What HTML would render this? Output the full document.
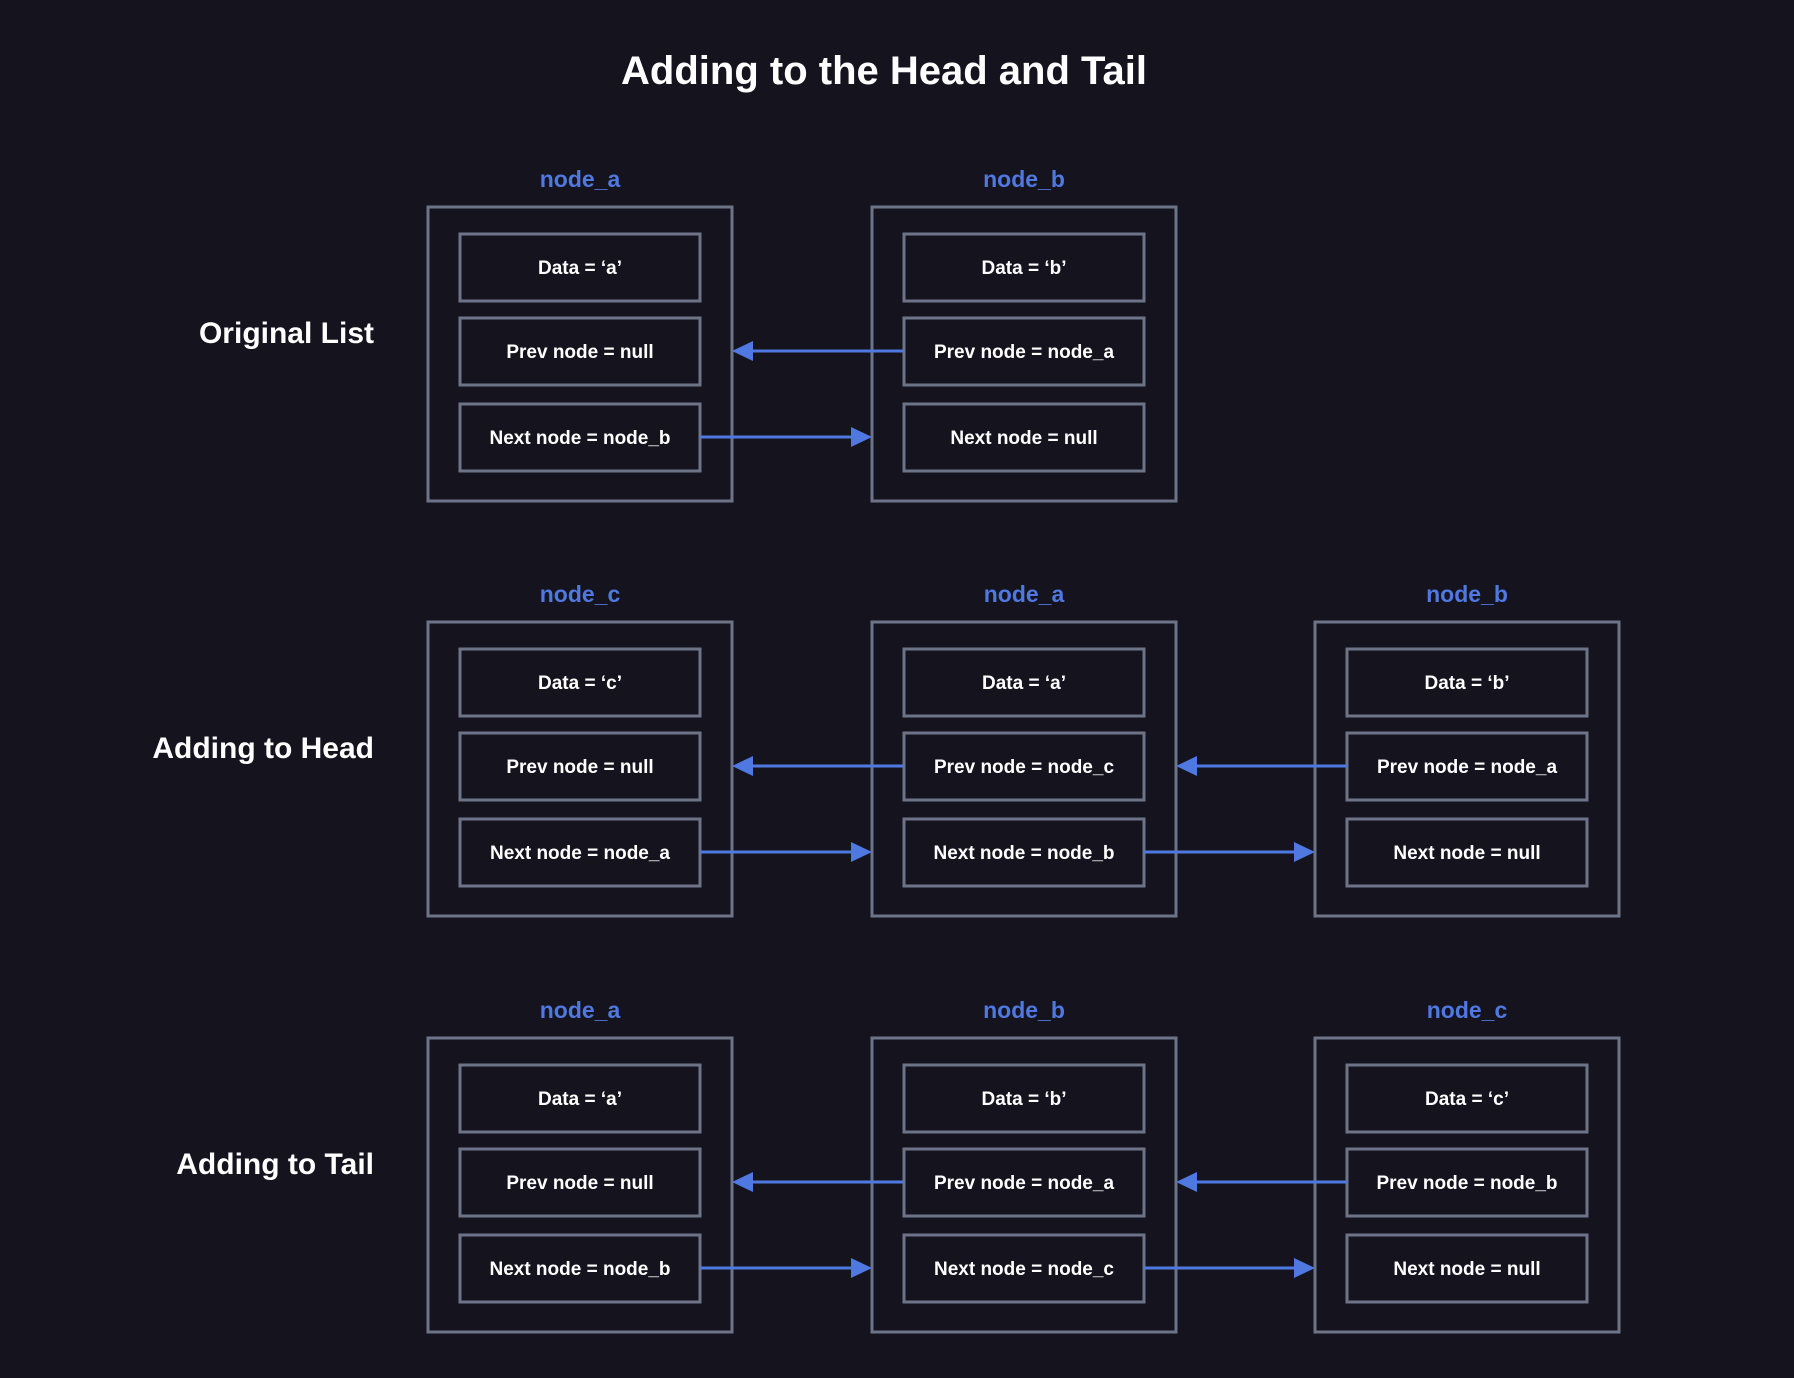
<!DOCTYPE html>
<html><head><meta charset="utf-8"><style>
html,body{margin:0;padding:0;background:#14131e;}
svg{display:block}
text{font-family:"Liberation Sans",sans-serif;font-weight:bold;}
.o{fill:none;stroke:#6e7488;stroke-width:3}
.t{fill:#fff;font-size:19px;text-anchor:middle}
.n{fill:#4f78e0;font-size:23px;text-anchor:middle}
.r{fill:#fff;font-size:30px;text-anchor:end}
.l{stroke:#4f78e0;stroke-width:3}
.a{fill:#4f78e0}
</style></head><body>
<svg width="1794" height="1378" viewBox="0 0 1794 1378" xmlns="http://www.w3.org/2000/svg">
<rect width="1794" height="1378" fill="#14131e"/>
<text x="884" y="84" text-anchor="middle" fill="#fff" font-size="40">Adding to the Head and Tail</text>

<!-- Row 1 -->
<text class="r" x="374" y="343">Original List</text>
<text class="n" x="580" y="187">node_a</text>
<rect class="o" x="428" y="207" width="304" height="294"/>
<rect class="o" x="460" y="234" width="240" height="67"/><text class="t" x="580" y="274">Data = ‘a’</text>
<rect class="o" x="460" y="318" width="240" height="67"/><text class="t" x="580" y="358">Prev node = null</text>
<rect class="o" x="460" y="404" width="240" height="67"/><text class="t" x="580" y="444">Next node = node_b</text>
<text class="n" x="1024" y="187">node_b</text>
<rect class="o" x="872" y="207" width="304" height="294"/>
<rect class="o" x="904" y="234" width="240" height="67"/><text class="t" x="1024" y="274">Data = ‘b’</text>
<rect class="o" x="904" y="318" width="240" height="67"/><text class="t" x="1024" y="358">Prev node = node_a</text>
<rect class="o" x="904" y="404" width="240" height="67"/><text class="t" x="1024" y="444">Next node = null</text>
<line class="l" x1="904" y1="351" x2="752" y2="351"/><polygon class="a" points="732,351 753,341 753,361"/>
<line class="l" x1="700" y1="437" x2="852" y2="437"/><polygon class="a" points="872,437 851,427 851,447"/>

<!-- Row 2 -->
<text class="r" x="374" y="758">Adding to Head</text>
<text class="n" x="580" y="602">node_c</text>
<rect class="o" x="428" y="622" width="304" height="294"/>
<rect class="o" x="460" y="649" width="240" height="67"/><text class="t" x="580" y="689">Data = ‘c’</text>
<rect class="o" x="460" y="733" width="240" height="67"/><text class="t" x="580" y="773">Prev node = null</text>
<rect class="o" x="460" y="819" width="240" height="67"/><text class="t" x="580" y="859">Next node = node_a</text>
<text class="n" x="1024" y="602">node_a</text>
<rect class="o" x="872" y="622" width="304" height="294"/>
<rect class="o" x="904" y="649" width="240" height="67"/><text class="t" x="1024" y="689">Data = ‘a’</text>
<rect class="o" x="904" y="733" width="240" height="67"/><text class="t" x="1024" y="773">Prev node = node_c</text>
<rect class="o" x="904" y="819" width="240" height="67"/><text class="t" x="1024" y="859">Next node = node_b</text>
<text class="n" x="1467" y="602">node_b</text>
<rect class="o" x="1315" y="622" width="304" height="294"/>
<rect class="o" x="1347" y="649" width="240" height="67"/><text class="t" x="1467" y="689">Data = ‘b’</text>
<rect class="o" x="1347" y="733" width="240" height="67"/><text class="t" x="1467" y="773">Prev node = node_a</text>
<rect class="o" x="1347" y="819" width="240" height="67"/><text class="t" x="1467" y="859">Next node = null</text>
<line class="l" x1="904" y1="766" x2="752" y2="766"/><polygon class="a" points="732,766 753,756 753,776"/>
<line class="l" x1="700" y1="852" x2="852" y2="852"/><polygon class="a" points="872,852 851,842 851,862"/>
<line class="l" x1="1347" y1="766" x2="1196" y2="766"/><polygon class="a" points="1176,766 1197,756 1197,776"/>
<line class="l" x1="1144" y1="852" x2="1295" y2="852"/><polygon class="a" points="1315,852 1294,842 1294,862"/>

<!-- Row 3 -->
<text class="r" x="374" y="1174">Adding to Tail</text>
<text class="n" x="580" y="1018">node_a</text>
<rect class="o" x="428" y="1038" width="304" height="294"/>
<rect class="o" x="460" y="1065" width="240" height="67"/><text class="t" x="580" y="1105">Data = ‘a’</text>
<rect class="o" x="460" y="1149" width="240" height="67"/><text class="t" x="580" y="1189">Prev node = null</text>
<rect class="o" x="460" y="1235" width="240" height="67"/><text class="t" x="580" y="1275">Next node = node_b</text>
<text class="n" x="1024" y="1018">node_b</text>
<rect class="o" x="872" y="1038" width="304" height="294"/>
<rect class="o" x="904" y="1065" width="240" height="67"/><text class="t" x="1024" y="1105">Data = ‘b’</text>
<rect class="o" x="904" y="1149" width="240" height="67"/><text class="t" x="1024" y="1189">Prev node = node_a</text>
<rect class="o" x="904" y="1235" width="240" height="67"/><text class="t" x="1024" y="1275">Next node = node_c</text>
<text class="n" x="1467" y="1018">node_c</text>
<rect class="o" x="1315" y="1038" width="304" height="294"/>
<rect class="o" x="1347" y="1065" width="240" height="67"/><text class="t" x="1467" y="1105">Data = ‘c’</text>
<rect class="o" x="1347" y="1149" width="240" height="67"/><text class="t" x="1467" y="1189">Prev node = node_b</text>
<rect class="o" x="1347" y="1235" width="240" height="67"/><text class="t" x="1467" y="1275">Next node = null</text>
<line class="l" x1="904" y1="1182" x2="752" y2="1182"/><polygon class="a" points="732,1182 753,1172 753,1192"/>
<line class="l" x1="700" y1="1268" x2="852" y2="1268"/><polygon class="a" points="872,1268 851,1258 851,1278"/>
<line class="l" x1="1347" y1="1182" x2="1196" y2="1182"/><polygon class="a" points="1176,1182 1197,1172 1197,1192"/>
<line class="l" x1="1144" y1="1268" x2="1295" y2="1268"/><polygon class="a" points="1315,1268 1294,1258 1294,1278"/>
</svg>
</body></html>
